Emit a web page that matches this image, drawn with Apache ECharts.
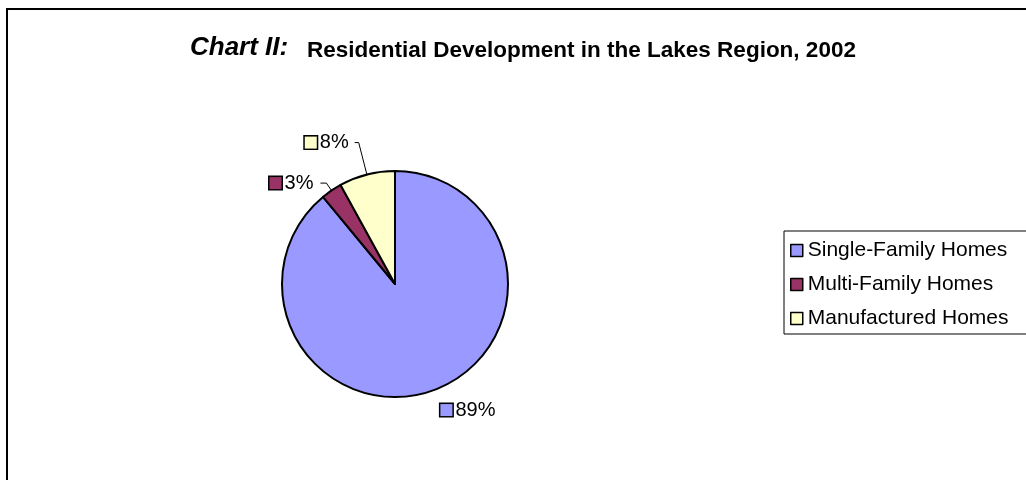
<!DOCTYPE html>
<html>
<head>
<meta charset="utf-8">
<script src="https://cdn.jsdelivr.net/npm/echarts@6/dist/echarts.min.js"></script>
<style>
html,body{margin:0;padding:0;background:#fff;}
#chart{width:1026px;height:480px;}
</style>
</head>
<body>
<div id="chart"></div>
<script>
const categories = ['Single-Family Homes', 'Multi-Family Homes', 'Manufactured Homes'];
const values = [89, 3, 8];
const colors = ['#9999FF', '#993366', '#FFFFCC'];
const titleLead = 'Chart II:';
const titleText = 'Residential Development in the Lakes Region, 2002';

const FONT = '"Liberation Sans", Arial, sans-serif';
const rich = { v: { fontSize: 20, fontFamily: FONT, color: '#000', padding: [0, 0, 0, 3] } };
colors.forEach((c, i) => {
  rich['k' + i] = { width: 12, height: 12, backgroundColor: c, borderColor: '#000', borderWidth: 1.5 };
});

// per-slice label line styling (Excel-like leader lines)
const lineStyles = [
  { show: false, length: 21, length2: 0, dist: 0 },
  { show: true, length: 9, length2: 6, dist: 7 },
  { show: true, length: 33, length2: 4, dist: 6 }
];

const chart = echarts.init(document.getElementById('chart'), null, { renderer: 'canvas' });
chart.setOption({
  animation: false,
  backgroundColor: '#fff',
  color: colors,
  title: [
    { text: titleLead, left: 185, top: 30,
      textStyle: { fontFamily: FONT, fontSize: 26, fontWeight: 'bold', fontStyle: 'italic', color: '#000' } },
    { text: titleText, left: 302, top: 34,
      textStyle: { fontFamily: FONT, fontSize: 22.5, fontWeight: 'bold', color: '#000' } }
  ],
  graphic: [{
    type: 'rect', silent: true, z: -1,
    shape: { x: 7, y: 9, width: 1200, height: 700 },
    style: { fill: 'none', stroke: '#000', lineWidth: 2 }
  }],
  legend: {
    orient: 'vertical',
    left: 784, top: 231,
    data: categories,
    icon: 'rect',
    itemWidth: 12, itemHeight: 12,
    itemGap: 13,
    padding: [9, 20, 5, 6],
    borderColor: '#000', borderWidth: 1,
    itemStyle: { borderColor: '#000', borderWidth: 1.5 },
    textStyle: { fontFamily: FONT, fontSize: 21, color: '#000' }
  },
  series: [{
    type: 'pie',
    center: [395, 284],
    radius: 113,
    startAngle: 90,
    clockwise: true,
    avoidLabelOverlap: false,
    itemStyle: { borderColor: '#000', borderWidth: 2 },
    emphasis: { disabled: true },
    label: {
      show: true,
      position: 'outside',
      formatter: p => '{k' + p.dataIndex + '|}{v|' + p.value + '%}',
      rich: rich
    },
    labelLine: { show: true, lineStyle: { color: '#000', width: 1 } },
    data: categories.map((n, i) => ({
      name: n,
      value: values[i],
      label: { distanceToLabelLine: lineStyles[i].dist },
      labelLine: { show: lineStyles[i].show, length: lineStyles[i].length, length2: lineStyles[i].length2 }
    }))
  }]
});
</script>
</body>
</html>
